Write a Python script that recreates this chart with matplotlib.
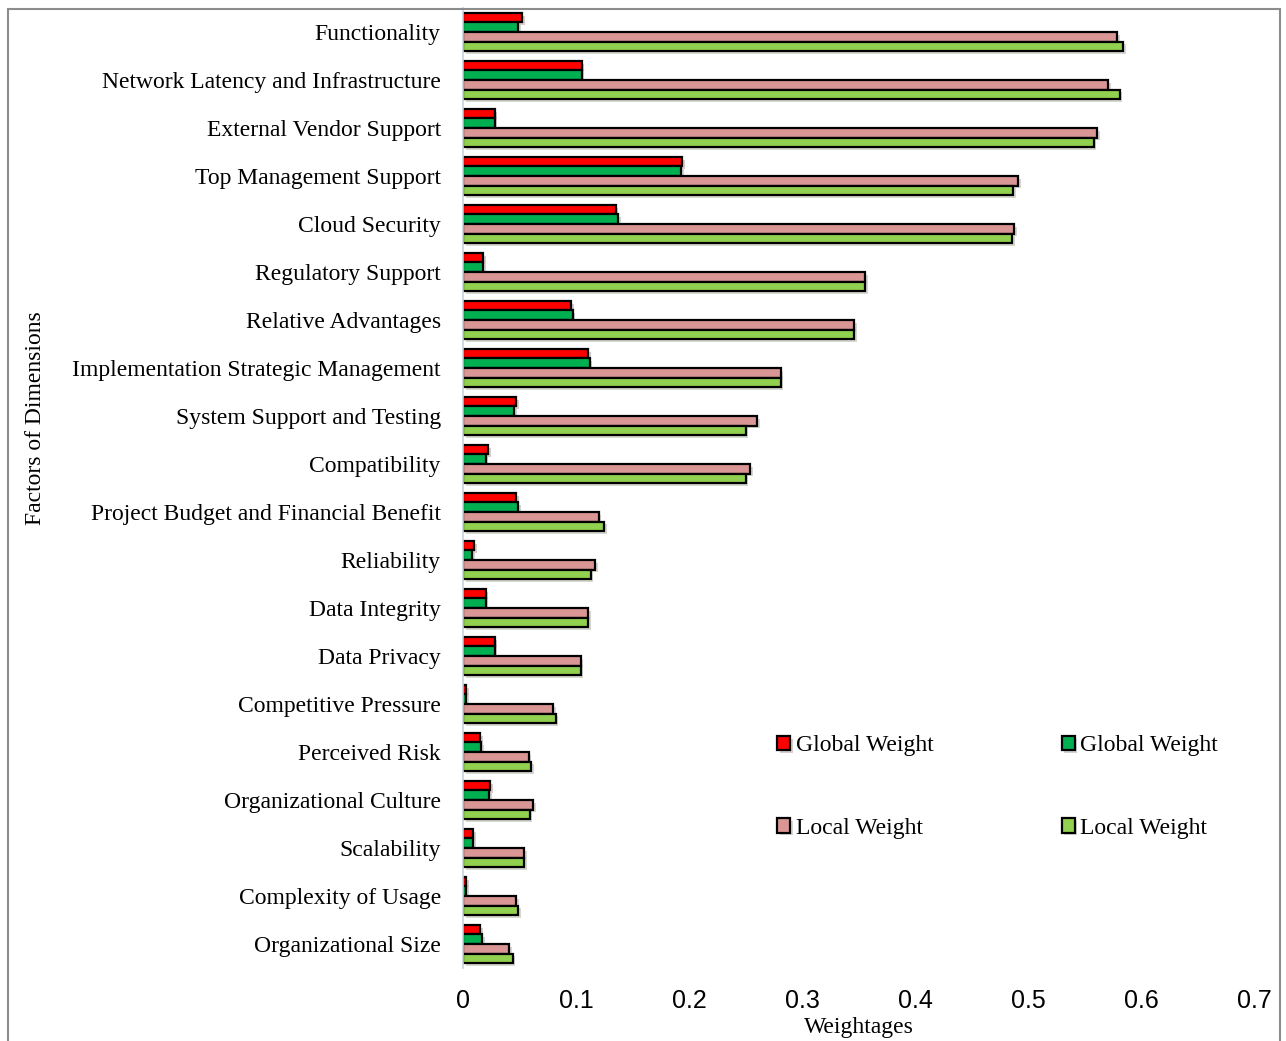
from matplotlib import pyplot as plt
from matplotlib import patheffects as pe
from matplotlib.patches import Rectangle
import numpy as np

#####################################################################
# Global and local weights of factors
#####################################################################

factors = ["Functionality", "Network Latency and Infrastructure", "External Vendor Support",
           "Top Management Support", "Cloud Security", "Regulatory Support",
           "Relative Advantages", "Implementation Strategic Management",
           "System Support and Testing", "Compatibility", "Project Budget and Financial Benefit",
           "Reliability", "Data Integrity", "Data Privacy", "Competitive Pressure",
           "Perceived Risk", "Organizational Culture", "Scalability",
           "Complexity of Usage", "Organizational Size"]

global_red = [0.052, 0.105, 0.028, 0.194, 0.135, 0.018, 0.096, 0.111, 0.047, 0.022,
              0.047, 0.010, 0.020, 0.028, 0.003, 0.015, 0.024, 0.009, 0.003, 0.015]
global_green = [0.049, 0.105, 0.028, 0.193, 0.137, 0.018, 0.097, 0.112, 0.045, 0.020,
                0.049, 0.008, 0.020, 0.028, 0.003, 0.016, 0.023, 0.009, 0.003, 0.017]
local_pink = [0.579, 0.571, 0.561, 0.491, 0.488, 0.356, 0.346, 0.281, 0.260, 0.254,
              0.120, 0.117, 0.111, 0.104, 0.080, 0.058, 0.062, 0.054, 0.047, 0.041]
local_green = [0.584, 0.581, 0.558, 0.487, 0.486, 0.356, 0.346, 0.281, 0.250, 0.250,
               0.125, 0.113, 0.111, 0.104, 0.082, 0.060, 0.059, 0.054, 0.049, 0.044]

serif = "Liberation Serif"
narrow = ["Liberation Sans Narrow", "Liberation Sans"]

fig = plt.figure(figsize=(12.86, 10.41), dpi=100)
ax = fig.add_axes([463/1286, 1 - 968/1041, (1254 - 463)/1286, 960/1041])

y = np.arange(len(factors))
h = 0.2
shadow = [pe.SimplePatchShadow(offset=(2, -2), alpha=0.2), pe.Normal()]
series = [(global_red, "#FF0000", "Global Weight"),
          (global_green, "#00B050", "Global Weight"),
          (local_pink, "#D99694", "Local Weight"),
          (local_green, "#92D050", "Local Weight")]
bars = []
for k, (vals, col, lab) in enumerate(series):
    b = ax.barh(y + (k - 1.5) * h, vals, height=h, color=col, edgecolor="black",
                linewidth=1.6, label=lab)
    for p in b:
        p.set_path_effects(shadow)
    bars.append(b)

ax.set_ylim(len(factors) - 0.5, -0.5)
ax.set_xlim(0, 0.7)
ax.set_yticks(y)
ax.set_yticklabels(factors, fontfamily=serif, fontsize=17)
ax.set_xticks(np.arange(0, 0.71, 0.1))
ax.set_xticklabels(["0", "0.1", "0.2", "0.3", "0.4", "0.5", "0.6", "0.7"],
                   fontfamily=narrow, fontsize=18)
ax.tick_params(axis="y", length=0, pad=16)
ax.tick_params(axis="x", length=0, pad=15)
for s in ["top", "right", "bottom"]:
    ax.spines[s].set_visible(False)
ax.spines["left"].set_color("#C9D3E0")
ax.spines["left"].set_linewidth(1.2)

ax.set_xlabel("Weightages", fontfamily=serif, fontsize=17, labelpad=3)
fig.text(36/1286, 1 - 418/1041, "Factors of Dimensions", rotation=90, ha="center",
         va="center", fontfamily=serif, fontsize=17)

handles = [bars[0], bars[2], bars[1], bars[3]]
labels = ["Global Weight", "Local Weight", "Global Weight", "Local Weight"]
ax.legend(handles, labels, ncol=2, frameon=False, loc="upper left",
          bbox_to_anchor=(768/1286, 1 - 726/1041), bbox_transform=fig.transFigure,
          prop={"family": serif, "size": 17}, handlelength=0.55, handleheight=0.55,
          handletextpad=0.25, columnspacing=5.4, labelspacing=2.6, borderaxespad=0)

fig.add_artist(Rectangle((8/1286, -0.01), (1280 - 8)/1286, 1 - 9/1041 + 0.01,
                         transform=fig.transFigure, fill=False, edgecolor="#8C8C8C",
                         linewidth=1.5))

plt.savefig("out.png", dpi=100)
